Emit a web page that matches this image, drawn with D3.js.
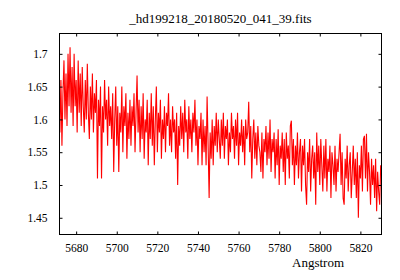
<!DOCTYPE html>
<html>
<head>
<meta charset="utf-8">
<script src="https://cdn.jsdelivr.net/npm/d3@7"></script>
<style>
  body { margin: 0; background: #fff; }
  svg text { font-family: "Liberation Serif", "Times New Roman", serif; fill: #000; }
</style>
</head>
<body>
<div id="chart"></div>
<script>
// spectrum, one sample every 0.5 Angstrom starting at 5672
var startWave = 5672, stepWave = 0.5;
var flux = [
  1.58, 1.66, 1.56, 1.64, 1.69, 1.60, 1.67, 1.59, 1.70, 1.62,
  1.71, 1.61, 1.68, 1.59, 1.70, 1.62, 1.66, 1.58, 1.69, 1.61,
  1.67, 1.59, 1.68, 1.62, 1.58, 1.66, 1.60, 1.685, 1.61, 1.57,
  1.65, 1.60, 1.67, 1.58, 1.64, 1.61, 1.66, 1.51, 1.63, 1.59,
  1.65, 1.51, 1.62, 1.58, 1.66, 1.60, 1.63, 1.56, 1.65, 1.59,
  1.62, 1.57, 1.64, 1.52, 1.60, 1.65, 1.56, 1.62, 1.52, 1.61,
  1.58, 1.65, 1.55, 1.62, 1.59, 1.64, 1.54, 1.61, 1.57, 1.63,
  1.56, 1.62, 1.59, 1.64, 1.55, 1.61, 1.667, 1.58, 1.63, 1.55,
  1.62, 1.57, 1.64, 1.54, 1.60, 1.58, 1.63, 1.53, 1.61, 1.57,
  1.64, 1.56, 1.62, 1.53, 1.60, 1.65, 1.55, 1.61, 1.58, 1.63,
  1.54, 1.60, 1.57, 1.62, 1.55, 1.61, 1.59, 1.64, 1.56, 1.60,
  1.55, 1.62, 1.58, 1.60, 1.54, 1.61, 1.50, 1.59, 1.56, 1.62,
  1.57, 1.61, 1.55, 1.63, 1.58, 1.60, 1.54, 1.62, 1.57, 1.60,
  1.55, 1.61, 1.58, 1.63, 1.56, 1.60, 1.53, 1.59, 1.57, 1.61,
  1.53, 1.60, 1.55, 1.59, 1.53, 1.635, 1.56, 1.48, 1.58, 1.54,
  1.60, 1.53, 1.59, 1.56, 1.61, 1.55, 1.60, 1.57, 1.54, 1.60,
  1.56, 1.61, 1.54, 1.59, 1.57, 1.60, 1.53, 1.58, 1.55, 1.61,
  1.57, 1.59, 1.54, 1.60, 1.56, 1.61, 1.53, 1.58, 1.56, 1.60,
  1.55, 1.59, 1.53, 1.60, 1.57, 1.58, 1.627, 1.55, 1.59, 1.51,
  1.57, 1.60, 1.54, 1.58, 1.53, 1.59, 1.56, 1.55, 1.52, 1.58,
  1.51, 1.57, 1.55, 1.59, 1.53, 1.58, 1.54, 1.60, 1.52, 1.57,
  1.55, 1.58, 1.51, 1.57, 1.53, 1.585, 1.50, 1.56, 1.54, 1.58,
  1.52, 1.57, 1.50, 1.58, 1.54, 1.56, 1.51, 1.59, 1.598, 1.53,
  1.57, 1.50, 1.56, 1.53, 1.58, 1.51, 1.55, 1.57, 1.49, 1.56,
  1.53, 1.57, 1.50, 1.47, 1.55, 1.52, 1.57, 1.49, 1.54, 1.56,
  1.51, 1.55, 1.47, 1.58, 1.52, 1.56, 1.50, 1.57, 1.53, 1.49,
  1.56, 1.51, 1.57, 1.49, 1.54, 1.52, 1.56, 1.48, 1.55, 1.53,
  1.50, 1.56, 1.49, 1.54, 1.52, 1.55, 1.578, 1.50, 1.55, 1.48,
  1.47, 1.54, 1.51, 1.56, 1.49, 1.53, 1.55, 1.48, 1.52, 1.56,
  1.50, 1.54, 1.48, 1.55, 1.45, 1.53, 1.51, 1.56, 1.49, 1.57,
  1.575, 1.51, 1.578, 1.49, 1.55, 1.52, 1.47, 1.54, 1.50, 1.53,
  1.48, 1.54, 1.46, 1.52, 1.49, 1.47, 1.53
];
var xTicks = [5680, 5700, 5720, 5740, 5760, 5780, 5800, 5820];
var yTicks = [1.45, 1.5, 1.55, 1.6, 1.65, 1.7];
var title = "_hd199218_20180520_041_39.fits";
var xLabel = "Angstrom";

var W = 400, H = 280;
var margin = {top: 33.5, right: 18.5, bottom: 45.5, left: 59.5};
var width = W - margin.left - margin.right,
    height = H - margin.top - margin.bottom;

var svg = d3.select("#chart").append("svg")
    .attr("width", W).attr("height", H);

var g = svg.append("g")
    .attr("transform", "translate(" + margin.left + "," + margin.top + ")");

var data = flux.map(function(v, i) { return {x: startWave + i * stepWave, y: v}; });

var x = d3.scaleLinear().domain([5671.8, 5830.4]).range([0, width]);
var y = d3.scaleLinear().domain([1.4245, 1.731]).range([height, 0]);

// spectrum line
g.append("path")
    .datum(data)
    .attr("fill", "none")
    .attr("stroke", "#ff0000")
    .attr("stroke-width", 1.1)
    .attr("d", d3.line().x(d => x(d.x)).y(d => y(d.y)));

// axes, ticks pointing inward, mirrored on top and right
var tk = 3;
g.append("g")
    .attr("transform", "translate(0," + height + ")")
    .call(d3.axisBottom(x).tickValues(xTicks).tickSize(-tk).tickPadding(9).tickFormat(d3.format("d")));
g.append("g")
    .call(d3.axisTop(x).tickValues(xTicks).tickSize(-tk).tickFormat(""));
g.append("g")
    .call(d3.axisLeft(y).tickValues(yTicks).tickSize(-tk).tickPadding(12).tickFormat(d3.format("")));
g.append("g")
    .attr("transform", "translate(" + width + ",0)")
    .call(d3.axisRight(y).tickValues(yTicks).tickSize(-tk).tickFormat(""));

g.selectAll(".domain").remove();
g.selectAll("g").attr("font-family", null);
g.selectAll(".tick line").attr("stroke", "#000");
g.selectAll(".tick text")
    .attr("font-size", 11.5)
    .attr("fill", "#000");

// frame
g.append("rect")
    .attr("width", width).attr("height", height)
    .attr("fill", "none").attr("stroke", "#000");

svg.append("text")
    .attr("x", margin.left + width / 2).attr("y", 23)
    .attr("text-anchor", "middle")
    .attr("font-size", 13)
    .text(title);

svg.append("text")
    .attr("x", 344).attr("y", 267)
    .attr("text-anchor", "end")
    .attr("font-size", 13)
    .text(xLabel);
</script>
</body>
</html>
